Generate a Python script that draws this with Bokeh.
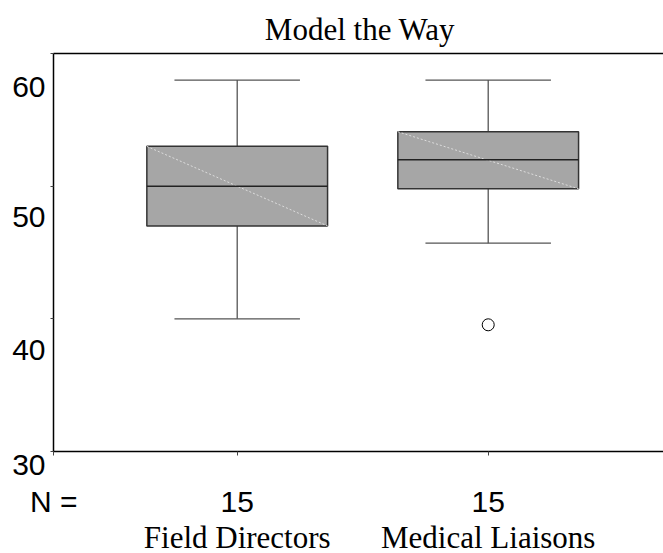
from bokeh.plotting import figure
from bokeh.models import Range1d, LinearAxis, FixedTicker
from bokeh.embed import file_html
from bokeh.resources import INLINE

# ---- data ----
title_text = "Model the Way"
categories = ["Field Directors", "Medical Liaisons"]
n_label = "N ="
n_counts = [15, 15]
whisker_low = [40, 45.7]
q1 = [47, 49.8]
median = [50, 52]
q3 = [53, 54.1]
whisker_high = [58, 58]
outlier_group = [2]          # 1-based category index
outlier_values = [39.55]
y_ticks = [30, 40, 50, 60]

# ---- styles / layout ----
# the original chart is cropped on the right: let the frame run past the window edge
W, H = 666, 558
left_b, top_b = 53, 53
frame_h = 398
bottom_b = H - top_b - frame_h
xs = list(range(1, len(categories) + 1))
ppu_x = 251.0
x_start = 0.2681
x_end = x_start + (W - left_b) / ppu_x
y_start, y_end = 30, 60
ppu_y = frame_h / (y_end - y_start)
box_w = 0.72
cap_w = 0.50
# SPSS-style label placement: pixels each y label's centre sits below its tick
label_drop = {60: 32.9, 50: 30.8, 40: 30.2}

p = figure(width=W, height=H, output_backend="svg", toolbar_location=None,
           x_range=Range1d(x_start, x_end), y_range=Range1d(y_start, y_end),
           min_border_left=left_b, min_border_right=0, min_border_top=top_b,
           min_border_bottom=bottom_b, title=title_text)
p.grid.visible = False
p.outline_line_color = None
p.background_fill_color = "white"
p.border_fill_color = "white"

serif = "Liberation Serif"
sans = "Liberation Sans"

p.title.align = "center"
p.title.text_font = serif
p.title.text_font_size = "31px"
p.title.text_font_style = "normal"
p.title.text_color = "black"
p.title.standoff = 13

# x axis (bottom): line, ticks, "N =" and counts
n_pos = round(x_start + 0.001, 4)
xa = p.xaxis[0]
xa.ticker = FixedTicker(ticks=[n_pos] + xs)
xa.major_label_overrides = {n_pos: n_label, **{x: str(n) for x, n in zip(xs, n_counts)}}
xa.major_label_text_font = sans
xa.major_label_text_font_size = "30px"
xa.major_label_text_color = "black"
xa.major_label_standoff = 29
xa.axis_line_color = "black"
xa.axis_line_width = 1.5
xa.major_tick_out = 4
xa.major_tick_in = 0
xa.major_tick_line_color = "#444444"
xa.minor_tick_out = 0
xa.minor_tick_in = 0

# second bottom axis: category names
xc = LinearAxis(ticker=FixedTicker(ticks=xs),
                major_label_overrides={x: c for x, c in zip(xs, categories)},
                major_label_text_font=serif, major_label_text_font_size="31px",
                major_label_text_color="black",
                major_label_standoff=-1, axis_line_color=None,
                major_tick_out=0, major_tick_in=0, minor_tick_out=0, minor_tick_in=0)
p.add_layout(xc, "below")

# y axis (left): line and tick marks
ya = p.yaxis[0]
ya.ticker = FixedTicker(ticks=y_ticks)
ya.major_label_overrides = {v: "" for v in y_ticks}
ya.major_label_standoff = 0
ya.axis_line_color = "black"
ya.axis_line_width = 1.5
ya.major_tick_out = 3
ya.major_tick_in = 0
ya.major_tick_line_color = "#444444"
ya.minor_tick_out = 0
ya.minor_tick_in = 0

# y labels (offset below their ticks, as in the original export)
lab_pos, lab_txt = [], {}
for v in y_ticks:
    if v in label_drop:
        pos = round(v - label_drop[v] / ppu_y, 3)
        lab_txt[pos] = str(v)
    else:                       # bottom label hangs below the frame
        pos = round(v + 0.01, 3)
        lab_txt[pos] = "\n" + str(v)
    lab_pos.append(pos)
yl = LinearAxis(ticker=FixedTicker(ticks=lab_pos), major_label_overrides=lab_txt,
                major_label_text_font=sans, major_label_text_font_size="30px",
                major_label_text_color="black", major_label_text_line_height=0.8,
                major_label_standoff=5, axis_line_color=None,
                major_tick_out=0, major_tick_in=0, minor_tick_out=0, minor_tick_in=0)
p.add_layout(yl, "left")

# top frame line
top = LinearAxis(ticker=FixedTicker(ticks=[]), axis_line_color="black",
                 axis_line_width=1.5, major_tick_out=0, major_tick_in=0,
                 minor_tick_out=0, minor_tick_in=0, major_label_standoff=0)
p.add_layout(top, "above")

# whiskers
p.segment(x0=xs, y0=q3, x1=xs, y1=whisker_high, line_color="#555555", line_width=1.3)
p.segment(x0=xs, y0=q1, x1=xs, y1=whisker_low, line_color="#555555", line_width=1.3)
# caps
p.segment(x0=[x - cap_w / 2 for x in xs], y0=whisker_high,
          x1=[x + cap_w / 2 for x in xs], y1=whisker_high, line_color="#555555", line_width=1.3)
p.segment(x0=[x - cap_w / 2 for x in xs], y0=whisker_low,
          x1=[x + cap_w / 2 for x in xs], y1=whisker_low, line_color="#555555", line_width=1.3)
# boxes
p.vbar(x=xs, width=box_w, bottom=q1, top=q3, fill_color="#a6a6a6",
       line_color="#333333", line_width=1.5)
# diagonal line inside boxes
p.segment(x0=[x - box_w / 2 for x in xs], y0=q3,
          x1=[x + box_w / 2 for x in xs], y1=q1, line_color="#dcdcdc",
          line_width=1, line_dash="2 2")
# medians
p.segment(x0=[x - box_w / 2 for x in xs], y0=median,
          x1=[x + box_w / 2 for x in xs], y1=median, line_color="#222222", line_width=1.5)
# outliers
p.scatter(x=outlier_group, y=outlier_values, marker="circle", size=12,
          fill_color="white", line_color="black", line_width=1)

open("out.html", "w").write(file_html(p, INLINE))
